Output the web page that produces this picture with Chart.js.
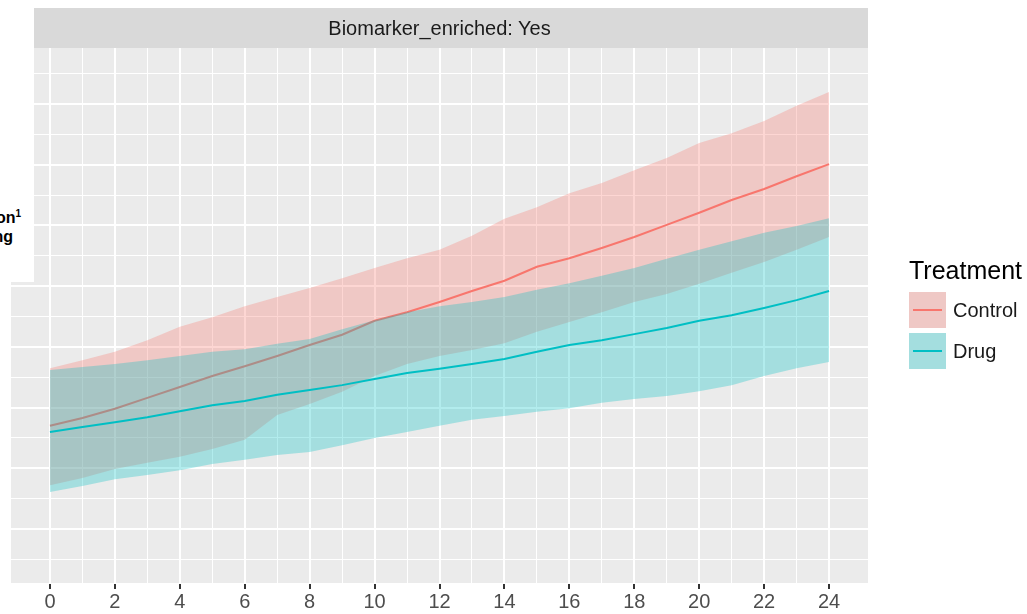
<!DOCTYPE html>
<html>
<head>
<meta charset="utf-8">
<script src="https://cdn.jsdelivr.net/npm/chart.js@4/dist/chart.umd.min.js"></script>
<style>
  body { margin: 0; background: #fff; font-family: "Liberation Sans", Arial, sans-serif; }
  #wrap { position: relative; width: 1027px; height: 614px; overflow: hidden; }
  #chart { position: absolute; left: 0; top: 0; }
  #strip { position: absolute; left: 11px; top: 8px; width: 857px; height: 40px; line-height: 40px;
           text-align: center; font-size: 20px; color: #1a1a1a; }
  #cover { position: absolute; left: 0; top: 0; width: 34px; height: 282px; background: #fff; overflow: hidden; }
  #cover div { position: absolute; font-weight: bold; font-size: 16px; color: #000; white-space: nowrap; line-height: 18px; }
  #cover sup { font-size: 10px; }
  .lg-title { position: absolute; left: 909px; top: 256px; font-size: 25px; color: #000; }
  .lg-key { position: absolute; left: 909px; width: 37px; height: 36px; background: #ebebeb; }
  .lg-key span { position: absolute; left: 0; top: 0; right: 0; bottom: 0; }
  .lg-key i { position: absolute; left: 4px; right: 4px; top: 17px; height: 2px; }
  .lg-text { position: absolute; left: 953px; font-size: 20px; color: #1a1a1a; line-height: 24px; }
</style>
</head>
<body>
<div id="wrap">
  <canvas id="chart" width="1027" height="614"></canvas>
  <div id="strip">Biomarker_enriched: Yes</div>
  <div id="cover">
    <div style="right:13px; top:205px;">on<sup>1</sup></div>
    <div style="right:21px; top:228px;">ng</div>
  </div>
  <div id="legend"></div>
</div>
<script>
// weeks on the x axis
const weeks = [0,1,2,3,4,5,6,7,8,9,10,11,12,13,14,15,16,17,18,19,20,21,22,23,24];
const xLabels = [0,2,4,6,8,10,12,14,16,18,20,22,24];
const yGrid = [5,10,15,20,25,30,35,40,45,50,55,60,65,70,75,80,85];

// Control: fitted line and band
const controlMean = [27.0,28.3,29.8,31.6,33.4,35.2,36.8,38.5,40.3,42.0,44.3,45.7,47.4,49.2,50.9,53.2,54.6,56.3,58.1,60.1,62.1,64.2,66.0,68.1,70.1];
const controlUpper = [36.5,37.8,39.2,41.1,43.3,44.9,46.7,48.2,49.7,51.3,53.0,54.6,56.0,58.3,61.1,63.0,65.3,67.0,69.1,71.1,73.6,75.2,77.2,79.7,82.0];
const controlLower = [17.2,18.4,19.9,20.9,21.9,23.2,24.7,28.8,30.6,32.6,35.2,37.2,38.5,39.5,40.6,42.5,44.1,45.7,47.4,48.7,50.4,52.2,54.0,56.0,58.1];

// Drug: fitted line and band
const drugMean = [26.0,26.8,27.6,28.4,29.4,30.4,31.1,32.1,32.9,33.7,34.7,35.7,36.4,37.2,38.0,39.2,40.3,41.1,42.1,43.1,44.3,45.2,46.4,47.7,49.2];
const drugUpper = [36.2,36.7,37.2,37.8,38.5,39.2,39.6,40.5,41.3,42.9,44.4,45.7,46.7,47.4,48.2,49.4,50.5,51.7,53.0,54.5,56.0,57.4,58.8,59.9,61.2];
const drugLower = [16.1,17.1,18.2,18.9,19.7,20.7,21.4,22.2,22.7,23.8,25.0,26.0,27.0,28.0,28.6,29.3,29.9,30.8,31.4,31.9,32.7,33.7,35.2,36.5,37.5];

const groups = [
  { name: 'Control', line: '#F8766D', band: 'rgba(248,118,109,0.3)', mean: controlMean, upper: controlUpper, lower: controlLower },
  { name: 'Drug', line: '#00BFC4', band: 'rgba(0,191,196,0.3)', mean: drugMean, upper: drugUpper, lower: drugLower }
];

const pts = arr => arr.map((v, i) => ({ x: weeks[i], y: v }));

const datasets = [];
let order = 10;
groups.forEach(g => {
  datasets.push({ label: g.name + ' upper', data: pts(g.upper), borderWidth: 0, borderColor: 'rgba(0,0,0,0)',
    backgroundColor: g.band, fill: '+1', pointRadius: 0, order: order-- });
  datasets.push({ label: g.name + ' lower', data: pts(g.lower), borderWidth: 0, borderColor: 'rgba(0,0,0,0)',
    fill: false, pointRadius: 0, order: order-- });
  datasets.push({ label: g.name, data: pts(g.mean), borderWidth: 2, borderColor: g.line,
    fill: false, pointRadius: 0, order: order-- });
});

const panel = {
  id: 'panel',
  beforeDraw(chart) {
    const { ctx, chartArea: a } = chart;
    ctx.save();
    ctx.fillStyle = '#EBEBEB';
    ctx.fillRect(a.left, a.top, a.right - a.left, a.bottom - a.top);
    ctx.fillStyle = '#D9D9D9';
    ctx.fillRect(a.left, 8, a.right - a.left, a.top - 8);
    ctx.restore();
  },
  afterDraw(chart) {
    // ggplot-style tick marks under the panel at labelled weeks
    const { ctx, chartArea: a, scales } = chart;
    ctx.save();
    ctx.strokeStyle = '#333333';
    ctx.lineWidth = 2;
    xLabels.forEach(v => {
      const px = Math.round(scales.x.getPixelForValue(v));
      ctx.beginPath();
      ctx.moveTo(px, a.bottom + 1);
      ctx.lineTo(px, a.bottom + 6);
      ctx.stroke();
    });
    ctx.restore();
  }
};

new Chart(document.getElementById('chart'), {
  type: 'line',
  data: { datasets: datasets },
  plugins: [panel],
  options: {
    responsive: false,
    animation: false,
    layout: { padding: { left: 11, top: 48, right: 159, bottom: 0 } },
    elements: { line: { tension: 0 } },
    plugins: { legend: { display: false }, tooltip: { enabled: false } },
    scales: {
      x: {
        type: 'linear', min: -1.2, max: 25.2,
        afterBuildTicks: s => { s.ticks = weeks.map(v => ({ value: v })); },
        afterFit: s => { s.height = 31; },
        border: { display: false },
        grid: {
          color: '#FFFFFF',
          lineWidth: c => (c.tick && c.tick.value % 2 === 0) ? 2 : 1,
          drawTicks: true,
          tickColor: 'rgba(0,0,0,0)',
          tickLength: 6
        },
        ticks: {
          autoSkip: false, maxRotation: 0, padding: 1,
          color: '#4D4D4D', font: { size: 20, family: '"Liberation Sans", Arial, sans-serif' },
          callback: v => xLabels.includes(v) ? String(v) : ''
        }
      },
      y: {
        type: 'linear', min: 1.11, max: 89.23,
        afterBuildTicks: s => { s.ticks = yGrid.map(v => ({ value: v })); },
        afterFit: s => { s.width = 0; },
        border: { display: false },
        grid: {
          color: '#FFFFFF',
          lineWidth: c => (c.tick && c.tick.value % 10 === 0) ? 2 : 1,
          drawTicks: false
        },
        ticks: { display: false }
      }
    }
  }
});

// legend built from the same groups
const lg = document.getElementById('legend');
let html = '<div class="lg-title">Treatment</div>';
groups.forEach((g, i) => {
  const top = 292 + i * 41;
  html += '<div class="lg-key" style="top:' + top + 'px"><span style="background:' + g.band + '"></span>' +
          '<i style="background:' + g.line + '"></i></div>';
  html += '<div class="lg-text" style="top:' + (top + 6) + 'px">' + g.name + '</div>';
});
lg.innerHTML = html;
</script>
</body>
</html>
